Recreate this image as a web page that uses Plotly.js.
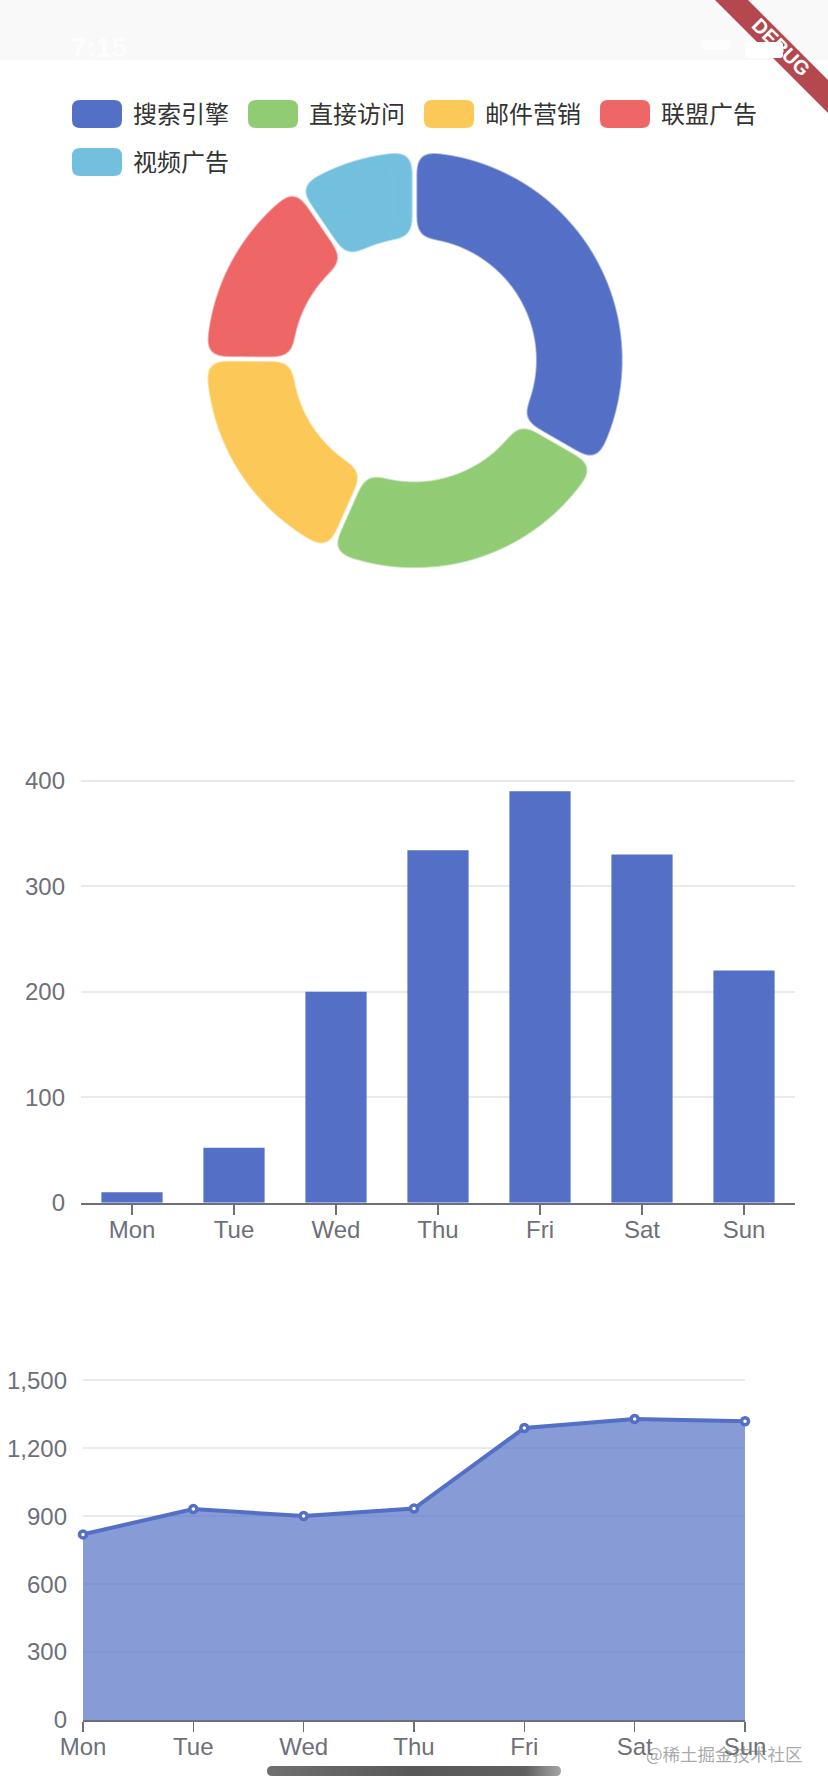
<!DOCTYPE html>
<html>
<head>
<meta charset="utf-8">
<script src="https://cdn.plot.ly/plotly-3.0.1.min.js"></script>
<style>html,body{margin:0;padding:0;background:#fff}#chart{width:828px;height:1792px}</style>
</head>
<body>
<svg width="0" height="0" style="position:absolute">
  <defs>
    <filter id="softCorners" x="-30%" y="-30%" width="160%" height="160%" color-interpolation-filters="sRGB">
      <feGaussianBlur stdDeviation="10"/>
      <feComponentTransfer><feFuncA type="linear" slope="14" intercept="-7.76"/></feComponentTransfer>
    </filter>
    <linearGradient id="homeGrad" x1="0" x2="1" y1="0" y2="0">
      <stop offset="0" stop-color="#707070"/><stop offset="0.5" stop-color="#585858"/>
      <stop offset="0.88" stop-color="#606060"/><stop offset="1" stop-color="#a5a5a5"/>
    </linearGradient>
  </defs>
</svg>
<div id="chart"></div>
<script>
const pieNames = ['搜索引擎', '直接访问', '邮件营销', '联盟广告', '视频广告'];
const pieValues = [1048, 735, 580, 484, 300];
const pieColors = ['#5470c6', '#91cc75', '#fcc858', '#ee6666', '#73c0de'];

const days = ['Mon', 'Tue', 'Wed', 'Thu', 'Fri', 'Sat', 'Sun'];
const barValues = [10, 52, 200, 334, 390, 330, 220];
const lineValues = [820, 932, 901, 934, 1290, 1330, 1320];

const W = 828, H = 1792;
const X = p => p / W, Y = p => 1 - p / H;
const AXIS = '#6e7079', GRID = '#e6ebf1', BLUE = '#5470c6';
const FONT = '"Liberation Sans", Arial, sans-serif';
const CJK = '"Noto Sans CJK SC", sans-serif';

function rrect(x0, y0, x1, y1, r, color, extra) {
  const xa = X(x0), xb = X(x1), ya = Y(y0), yb = Y(y1), rx = r / W, ry = r / H;
  return Object.assign({
    type: 'path', xref: 'paper', yref: 'paper', fillcolor: color, line: {width: 0},
    path: `M${xa + rx},${ya} L${xb - rx},${ya} Q${xb},${ya} ${xb},${ya - ry} L${xb},${yb + ry} Q${xb},${yb} ${xb - rx},${yb} L${xa + rx},${yb} Q${xa},${yb} ${xa},${yb + ry} L${xa},${ya - ry} Q${xa},${ya} ${xa + rx},${ya} Z`
  }, extra || {});
}
function poly(pts, color) {
  return {type: 'path', xref: 'paper', yref: 'paper', fillcolor: color, line: {width: 0},
    path: 'M' + pts.map(p => X(p[0]) + ',' + Y(p[1])).join(' L') + ' Z'};
}

const legendX = [72, 248, 424, 600, 72], legendY = [100, 100, 100, 100, 148];
const shapes = [
  {type: 'rect', xref: 'paper', yref: 'paper', x0: 0, x1: 1, y0: Y(60), y1: 1, fillcolor: '#f9f9f9', line: {width: 0}, layer: 'below'},
  rrect(702, 40, 730, 50, 3, '#fdfdfd'),
  poly([[715, 0], [748, 0], [828, 80], [828, 113]], '#b5484f'),
  rrect(745, 42, 783, 58, 3, '#ffffff')
];
const annotations = [];
function note(text, px, py, size, color, family, extra) {
  annotations.push(Object.assign({
    text, xref: 'paper', yref: 'paper', x: X(px), y: Y(py), showarrow: false,
    font: {size, color, family}, xanchor: 'left', yanchor: 'middle', borderpad: 0
  }, extra || {}));
}
pieNames.forEach((n, i) => {
  shapes.push(rrect(legendX[i], legendY[i], legendX[i] + 50, legendY[i] + 28, 8, pieColors[i]));
  note(n, legendX[i] + 60, legendY[i] + 12.5, 24, '#333333', CJK);
});
note('<b>7:15</b>', 70, 47, 28, '#fdfdfd', FONT);
note('<b>DEBUG</b>', 781, 47, 20, '#ffffff', FONT, {xanchor: 'center', textangle: 45});
note('@稀土掘金技术社区', 645, 1753, 17.5, 'rgba(120,120,120,0.65)', CJK);
shapes.push(rrect(267, 1766, 561, 1776, 5, '#666666'));

const cx = 414.5, cy = 360, R = 210.3, r = 120;
const traces = [
  {type: 'pie', labels: pieNames, values: pieValues, sort: false, direction: 'clockwise', rotation: 0,
   hole: r / R, marker: {colors: pieColors, line: {width: 0}}, textinfo: 'none', showlegend: false,
   domain: {x: [X(cx - R), X(cx + R)], y: [Y(cy + R), Y(cy - R)]}},
  {type: 'bar', x: days, y: barValues, xaxis: 'x', yaxis: 'y', marker: {color: BLUE}, showlegend: false},
  {type: 'scatter', mode: 'lines+markers', x: days, y: lineValues, xaxis: 'x2', yaxis: 'y2', showlegend: false,
   fill: 'tozeroy', fillcolor: 'rgba(84,112,198,0.7)', cliponaxis: false,
   line: {color: BLUE, width: 4},
   marker: {size: 7, color: '#ffffff', line: {color: BLUE, width: 3.5}}}
];

const tickFont = {family: FONT, size: 24, color: AXIS};
const xCommon = {type: 'category', showgrid: false, showline: true, linecolor: AXIS, linewidth: 2,
  ticks: 'outside', ticklen: 10, tickwidth: 1.5, tickcolor: AXIS, tickfont: tickFont, ticklabelstandoff: -6, fixedrange: true};
const yCommon = {showline: false, showgrid: true, gridcolor: GRID, gridwidth: 2, zeroline: false,
  ticks: '', tickfont: tickFont, ticklabelstandoff: 15, fixedrange: true};

const layout = {
  width: W, height: H, margin: {l: 0, r: 0, t: 0, b: 0}, paper_bgcolor: '#ffffff', plot_bgcolor: 'rgba(0,0,0,0)',
  showlegend: false, bargap: 0.4, shapes, annotations,
  xaxis: Object.assign({}, xCommon, {domain: [X(81), X(795)], anchor: 'y', range: [-0.5, 6.5]}),
  yaxis: Object.assign({}, yCommon, {domain: [Y(1202.7), Y(778.6)], anchor: 'x', range: [0, 402], dtick: 100}),
  xaxis2: Object.assign({}, xCommon, {domain: [X(83), X(745)], anchor: 'y2', range: [0, 6]}),
  yaxis2: Object.assign({}, yCommon, {domain: [Y(1720), Y(1378.2)], anchor: 'x2', range: [0, 1510], dtick: 300, tickformat: ','})
};

Plotly.newPlot('chart', traces, layout, {displayModeBar: false, staticPlot: true}).then(gd => {
  gd.querySelectorAll('.pielayer .slice path.surface').forEach(p => { p.style.filter = 'url(#softCorners)'; });
  const sh = gd.querySelectorAll('.shapelayer path');
  if (sh.length) sh[sh.length - 1].style.fill = 'url(#homeGrad)';
});
</script>
</body>
</html>
